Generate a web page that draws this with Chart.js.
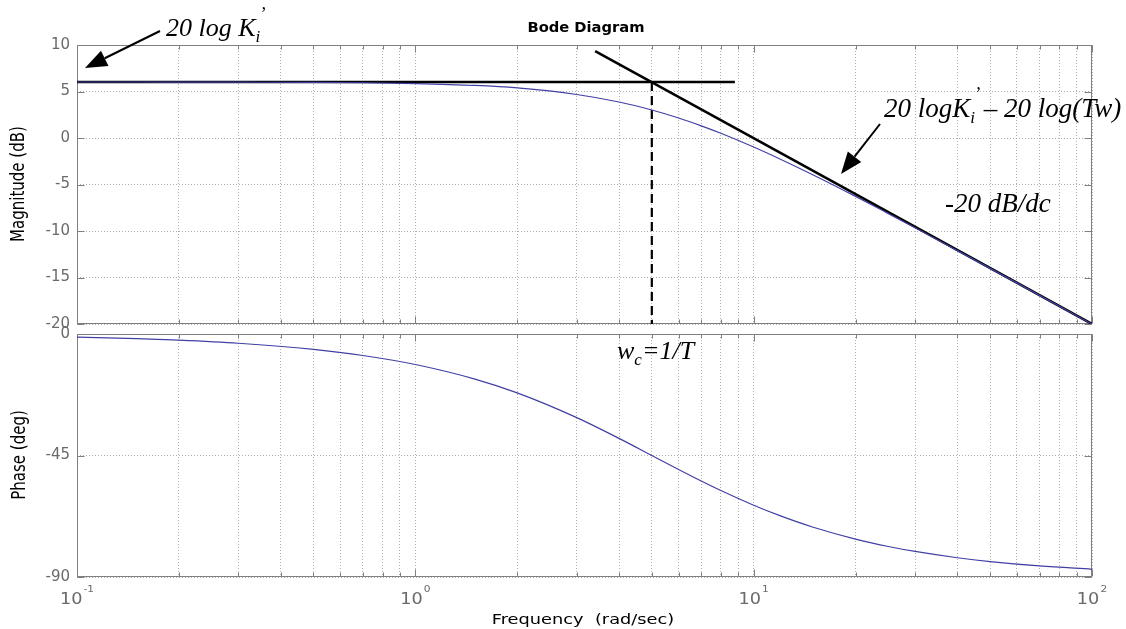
<!DOCTYPE html>
<html>
<head>
<meta charset="utf-8">
<script src="https://cdn.jsdelivr.net/npm/chart.js@4.4.0/dist/chart.umd.min.js"></script>
<style>
html,body{margin:0;padding:0;background:#fff;}
#wrap{position:relative;width:1126px;height:629px;overflow:hidden;background:#fff;}
canvas{position:absolute;left:0;top:0;}
</style>
</head>
<body>
<div id="wrap">
<canvas id="mag" width="1126" height="629"></canvas>
<canvas id="phase" width="1126" height="629"></canvas>
</div>
<script>
// ---- data ----
const frequencies = [0.1,0.15,0.2,0.3,0.5,0.7,1,1.5,2,3,4,5,6,7,8,10,12,15,20,25,30,40,50,70,100];
const magnitudeDb = [6.02,6.02,6.01,6.00,5.98,5.94,5.85,5.65,5.38,4.68,3.87,3.01,2.15,1.31,0.51,-0.97,-2.28,-3.98,-6.28,-8.13,-9.66,-12.11,-14.02,-16.92,-20.01];
const phaseDeg = [-1.15,-1.72,-2.29,-3.43,-5.71,-7.97,-11.31,-16.70,-21.80,-30.96,-38.66,-45.00,-50.19,-54.46,-57.99,-63.43,-67.38,-71.57,-75.96,-78.69,-80.54,-82.87,-84.29,-85.91,-87.14];

const flatAsymptoteX = [0.1, 8.8];
const flatAsymptoteY = [6.02, 6.02];
const slopeAsymptoteX = [3.4, 100];
const slopeAsymptoteY = [9.35, -20];
const cornerX = [5, 5];
const cornerY = [6.02, -20];

const magnitudeTicks = [10, 5, 0, -5, -10, -15, -20];
const phaseTicks = [0, -45, -90];
const xTickDecades = [0.1, 1, 10];
const xTickMultipliers = [1,2,3,4,5,6,7,8,9];
const xLabelExponents = [-1, 0, 1, 2];

// ---- styles ----
const CURVE = '#4040a4';
const GRID = '#b0b0b0';
const FRAME = '#7f7f7f';
const TICK = '#6a6a6a';
const xTicks = [];
xTickDecades.forEach(d => xTickMultipliers.forEach(m => xTicks.push(d * m)));
xTicks.push(100);

function pts(xs, ys){ return xs.map((x,i)=>({x:x, y:ys[i]})); }

function stretchText(ctx, text, x, y, font, color, sx, align){
  ctx.save();
  ctx.font = font; ctx.fillStyle = color; ctx.textBaseline = 'alphabetic'; ctx.textAlign = 'left';
  const w = ctx.measureText(text).width * sx;
  const x0 = align === 'center' ? x - w/2 : (align === 'right' ? x - w : x);
  ctx.translate(x0, y); ctx.scale(sx, 1); ctx.fillText(text, 0, 0);
  ctx.restore();
  return w;
}
function vertText(ctx, text, cx, cy, font, color, sx){
  ctx.save();
  ctx.font = font; ctx.fillStyle = color; ctx.textAlign = 'center'; ctx.textBaseline = 'middle';
  ctx.translate(cx, cy); ctx.scale(sx, 1); ctx.rotate(-Math.PI/2);
  ctx.fillText(text, 0, 0);
  ctx.restore();
}
function arrow(ctx, x1, y1, x2, y2, headLen, headW){
  const a = Math.atan2(y2-y1, x2-x1);
  const bx = x2 - headLen*Math.cos(a), by = y2 - headLen*Math.sin(a);
  ctx.save();
  ctx.strokeStyle = '#000'; ctx.fillStyle = '#000'; ctx.lineWidth = 2;
  ctx.beginPath(); ctx.moveTo(x1, y1); ctx.lineTo(bx, by); ctx.stroke();
  ctx.beginPath(); ctx.moveTo(x2, y2);
  ctx.lineTo(bx + headW/2*Math.sin(a), by - headW/2*Math.cos(a));
  ctx.lineTo(bx - headW/2*Math.sin(a), by + headW/2*Math.cos(a));
  ctx.closePath(); ctx.fill();
  ctx.restore();
}
const SERIF = '"Liberation Serif","Times New Roman",serif';
function it(size){ return 'italic ' + size + 'px ' + SERIF; }
function piece(ctx, text, x, y, size){
  ctx.font = it(size); ctx.fillText(text, x, y);
  return ctx.measureText(text).width;
}

const framePlugin = {
  id: 'frame',
  beforeDatasetsDraw(chart){
    const {ctx, chartArea: a, scales} = chart;
    ctx.save();
    ctx.strokeStyle = FRAME; ctx.lineWidth = 1;
    const L = Math.round(a.left)+0.5, R = Math.round(a.right)-0.5, T = Math.round(a.top)+0.5, B = Math.round(a.bottom)-0.5;
    ctx.beginPath();
    scales.x.ticks.forEach(t => {
      const px = Math.round(scales.x.getPixelForValue(t.value)) + 0.5;
      const major = Math.abs(Math.log10(t.value) - Math.round(Math.log10(t.value))) < 1e-9;
      const len = major ? 7 : 4;
      ctx.moveTo(px, B); ctx.lineTo(px, B - len);
      ctx.moveTo(px, T); ctx.lineTo(px, T + len);
    });
    scales.y.ticks.forEach(t => {
      const py = Math.round(scales.y.getPixelForValue(t.value)) + 0.5;
      ctx.moveTo(L, py); ctx.lineTo(L + 7, py);
      ctx.moveTo(R, py); ctx.lineTo(R - 7, py);
    });
    ctx.stroke();
    ctx.strokeRect(L, T, R - L, B - T);
    ctx.restore();
  }
};

function xScale(){
  return {
    type: 'logarithmic', min: 0.1, max: 100,
    afterBuildTicks: s => { s.ticks = xTicks.map(v => ({value: v})); },
    ticks: {display: false},
    grid: {color: GRID, lineWidth: 1, drawTicks: false},
    border: {display: false, dash: [1, 2]},
    afterFit: s => { s.height = 0; }
  };
}
function yScale(min, max, tickList){
  return {
    min: min, max: max,
    afterBuildTicks: s => { s.ticks = tickList.map(v => ({value: v})); },
    ticks: {font: {family: 'DejaVu Sans', size: 15}, color: TICK, padding: 7},
    grid: {color: GRID, lineWidth: 1, drawTicks: false},
    border: {display: false, dash: [1, 2]},
    afterFit: s => { s.width = 77; }
  };
}

const magTextPlugin = {
  id: 'magText',
  afterDraw(chart){
    const ctx = chart.ctx;
    stretchText(ctx, 'Bode Diagram', 586, 32, 'bold 14px "DejaVu Sans"', '#000', 1.05, 'center');
    vertText(ctx, 'Magnitude (dB)', 19, 184, '15px "DejaVu Sans"', '#000', 1.3);
  }
};

new Chart(document.getElementById('mag'), {
  type: 'line',
  data: { datasets: [
    {label: 'Magnitude', data: pts(frequencies, magnitudeDb), borderColor: CURVE, borderWidth: 1.2, pointRadius: 0, cubicInterpolationMode: 'monotone', fill: false},
    {label: '20 log Ki', data: pts(flatAsymptoteX, flatAsymptoteY), borderColor: '#000', borderWidth: 2.5, pointRadius: 0, fill: false},
    {label: '-20 dB/dc', data: pts(slopeAsymptoteX, slopeAsymptoteY), borderColor: '#000', borderWidth: 2.5, pointRadius: 0, fill: false},
    {label: 'wc', data: pts(cornerX, cornerY), borderColor: '#000', borderWidth: 2.2, borderDash: [9, 5], pointRadius: 0, fill: false}
  ]},
  options: {
    responsive: false, animation: false, devicePixelRatio: 1,
    layout: {padding: {top: 45, bottom: 305, left: 0, right: 34}},
    plugins: {legend: {display: false}, tooltip: {enabled: false}},
    scales: { x: xScale(), y: yScale(-20, 10, magnitudeTicks) }
  },
  plugins: [framePlugin, magTextPlugin]
});

const phaseTextPlugin = {
  id: 'phaseText',
  afterDraw(chart){
    const ctx = chart.ctx;
    const xs = chart.scales.x;
    // x tick labels 10^n
    xLabelExponents.forEach(e => {
      const px = xs.getPixelForValue(Math.pow(10, e));
      const sx = 1.18;
      ctx.save();
      ctx.font = '15px "DejaVu Sans"';
      const w1 = ctx.measureText('10').width * sx;
      ctx.font = '9px "DejaVu Sans"';
      const exp = String(e);
      const w2 = ctx.measureText(exp).width * sx;
      ctx.restore();
      const start = px - (w1 + w2 + 1)/2;
      stretchText(ctx, '10', start, 604, '15px "DejaVu Sans"', TICK, sx, 'left');
      stretchText(ctx, exp, start + w1 + 1, 592, '9px "DejaVu Sans"', TICK, sx, 'left');
    });
    stretchText(ctx, 'Frequency  (rad/sec)', 583, 624, '14px "DejaVu Sans"', '#000', 1.27, 'center');
    vertText(ctx, 'Phase (deg)', 20, 455, '15px "DejaVu Sans"', '#000', 1.3);

    // annotations
    ctx.save();
    ctx.fillStyle = '#000'; ctx.textBaseline = 'alphabetic'; ctx.textAlign = 'left';
    // 20 log Ki'
    let x = 166, y = 36;
    x += piece(ctx, '20 log K', x, y, 26);
    piece(ctx, '\u2019', x + 4, y - 16, 18);
    x += piece(ctx, 'i', x, y + 6, 17);
    // 20 logKi' - 20 log(Tw)
    x = 884; y = 117;
    x += piece(ctx, '20 logK', x, y, 27);
    piece(ctx, '\u2019', x + 4, y - 17, 18);
    x += piece(ctx, 'i', x, y + 6, 17);
    piece(ctx, ' \u2013 20 log(Tw)', x + 2, y, 27);
    // -20 dB/dc
    piece(ctx, '-20 dB/dc', 945, 212, 27);
    // wc = 1/T
    x = 617; y = 359;
    x += piece(ctx, 'w', x, y, 26);
    x += piece(ctx, 'c', x, y + 6, 17);
    piece(ctx, '=1/T', x, y, 26);
    ctx.restore();

    arrow(ctx, 160, 31, 85, 68, 22, 17);
    arrow(ctx, 880, 124, 841, 174, 22, 17);
  }
};

new Chart(document.getElementById('phase'), {
  type: 'line',
  data: { datasets: [
    {label: 'Phase', data: pts(frequencies, phaseDeg), borderColor: CURVE, borderWidth: 1.2, pointRadius: 0, cubicInterpolationMode: 'monotone', fill: false}
  ]},
  options: {
    responsive: false, animation: false, devicePixelRatio: 1,
    layout: {padding: {top: 334, bottom: 52, left: 0, right: 34}},
    plugins: {legend: {display: false}, tooltip: {enabled: false}},
    scales: { x: xScale(), y: yScale(-90, 0, phaseTicks) }
  },
  plugins: [framePlugin, phaseTextPlugin]
});
</script>
</body>
</html>
